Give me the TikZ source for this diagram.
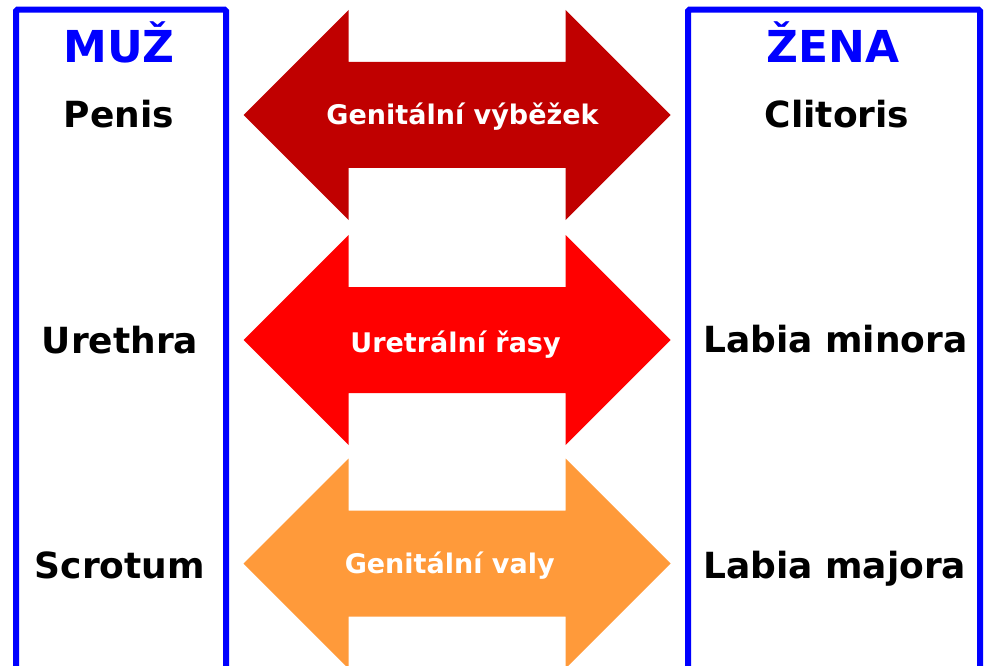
\documentclass[tikz,border=0pt]{standalone}
\usepackage{fontspec}
\setmainfont{DejaVu Sans}
\definecolor{boxblue}{HTML}{0000FF}
\definecolor{darkred}{HTML}{C00000}
\definecolor{brightred}{HTML}{FF0000}
\definecolor{orangeA}{HTML}{FF9A3A}
\tikzset{
  colbox/.style={draw=boxblue, line width=6pt, rounded corners=1.5pt},
  title/.style={anchor=base, text=boxblue, font=\fontsize{44}{48}\selectfont\bfseries, inner sep=0pt},
  organ/.style={anchor=base, text=black, font=\fontsize{36}{40}\selectfont\bfseries, inner sep=0pt},
  arrowtext/.style={anchor=base, text=white, font=\fontsize{27}{30}\selectfont\bfseries, inner sep=0pt},
}
\newcommand{\dblarrow}[2]{%
  \fill[#1] (243.5,#2) -- (348.5,#2-105) -- (348.5,#2-53) -- (565.5,#2-53) -- (565.5,#2-105)
   -- (670.5,#2) -- (565.5,#2+105) -- (565.5,#2+53) -- (348.5,#2+53) -- (348.5,#2+105) -- cycle;}
\begin{document}
\begin{tikzpicture}[x=1pt,y=-1pt]
\useasboundingbox (0,0) rectangle (986,666);
\clip (0,0) rectangle (986,666);
% columns
\draw[colbox] (16,9.7) rectangle (226,720);
\draw[colbox] (688,9.7) rectangle (980,720);
% arrows
\dblarrow{darkred}{115}
\dblarrow{brightred}{340}
\dblarrow{orangeA}{563.5}
% texts
\node[title] (muz) at (119,63) {MUŽ};
\node[title] (zena) at (833,63) {ŽENA};
\node[organ] (penis) at (119,128) {Penis};
\node[organ] (urethra) at (120,353) {Urethra};
\node[organ] (scrotum) at (120,578) {Scrotum};
\node[organ] (clitoris) at (837,128) {Clitoris};
\node[organ] (minora) at (835.5,352) {Labia minora};
\node[organ] (majora) at (834.7,578) {Labia majora};
\node[arrowtext] (a1) at (462.5,125) {Genitální výběžek};
\node[arrowtext] (a2) at (455.5,352) {Uretrální řasy};
\node[arrowtext] (a3) at (449.7,573) {Genitální valy};
\end{tikzpicture}
\end{document}
